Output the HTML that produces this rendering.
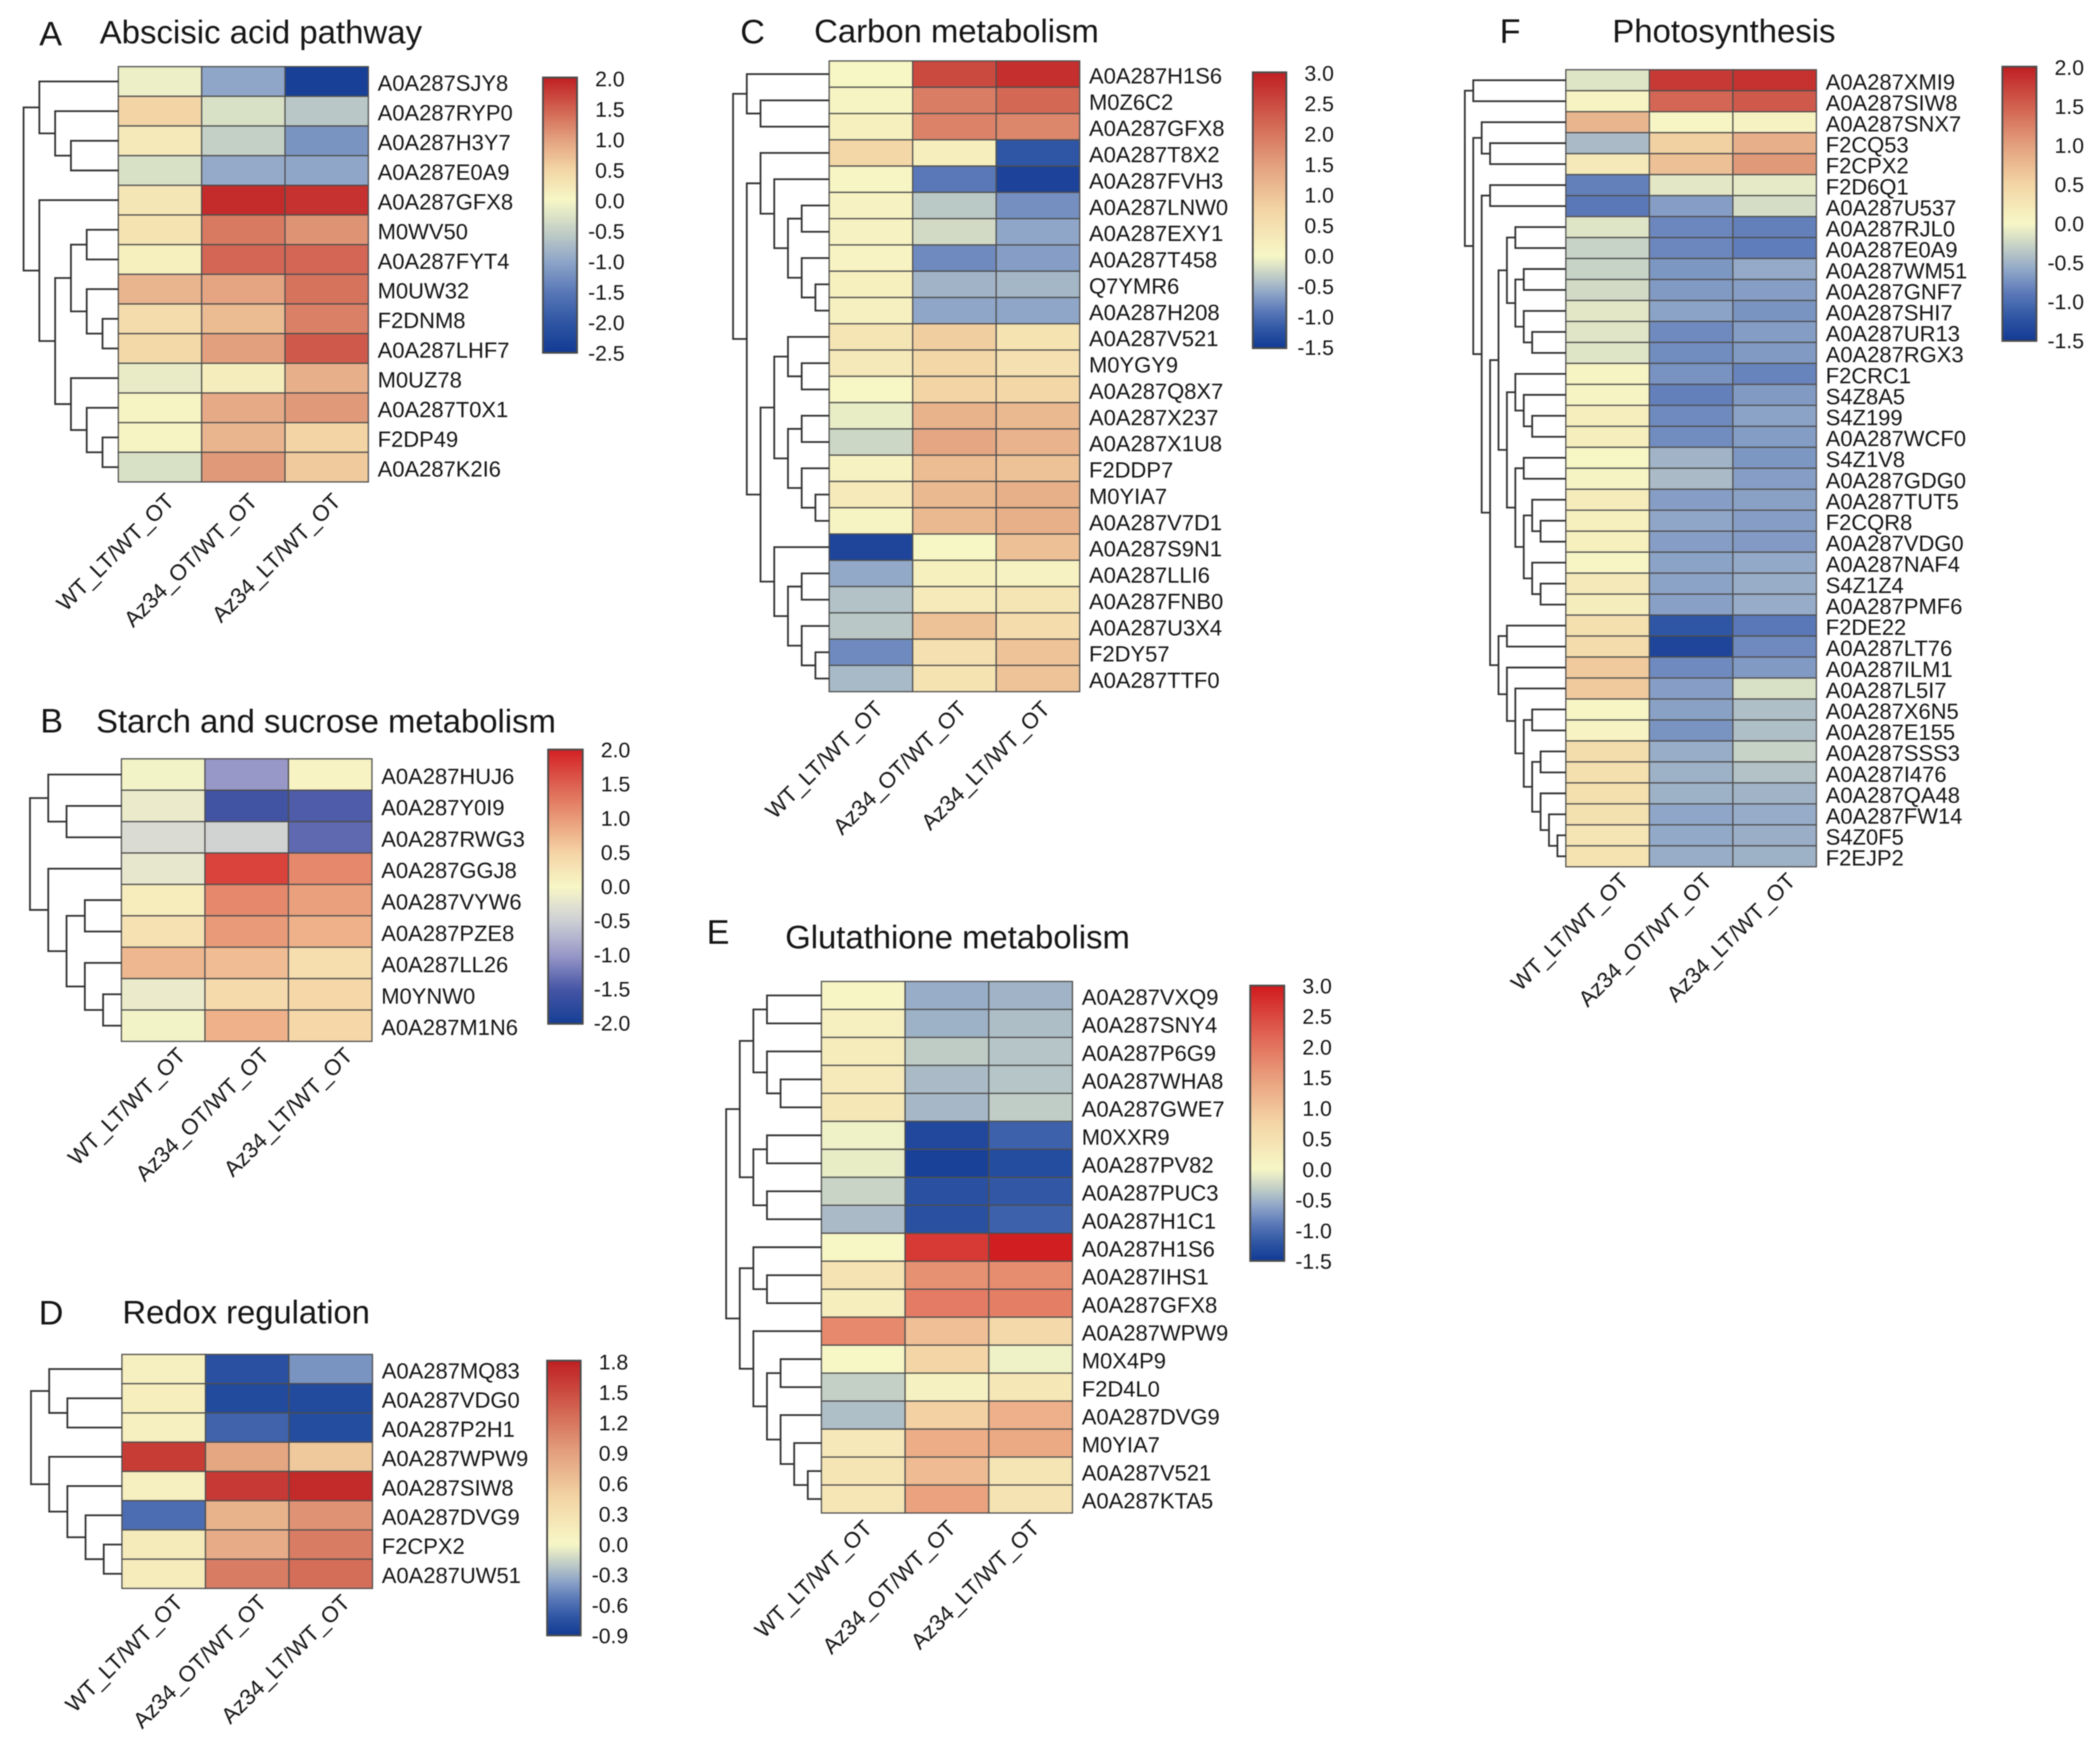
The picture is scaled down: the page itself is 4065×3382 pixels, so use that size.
<!DOCTYPE html>
<html lang="en">
<head>
<meta charset="utf-8">
<title>Heatmaps of differentially expressed proteins by pathway</title>
<style>
html,body{margin:0;padding:0;background:#fff;width:4065px;height:3382px;overflow:hidden}
svg{display:block;filter:blur(1px);font-family:"Liberation Sans",Arial,sans-serif;fill:#141414}
</style>
</head>
<body>
<svg id="figure" xmlns="http://www.w3.org/2000/svg" width="4065" height="3382" viewBox="0 0 4065 3382"></svg>
<script>
const conditions = ["WT_LT/WT_OT", "Az34_OT/WT_OT", "Az34_LT/WT_OT"];

const rowsA = ["A0A287SJY8","A0A287RYP0","A0A287H3Y7","A0A287E0A9","A0A287GFX8","M0WV50","A0A287FYT4","M0UW32","F2DNM8","A0A287LHF7","M0UZ78","A0A287T0X1","F2DP49","A0A287K2I6"];
const valuesA = [[-0.1,-1.0,-2.4],[0.5,-0.3,-0.6],[0.2,-0.5,-1.2],[-0.3,-0.95,-1.0],[0.25,1.9,1.85],[0.3,1.3,1.1],[0.1,1.45,1.45],[0.8,0.95,1.35],[0.4,0.75,1.25],[0.45,1.0,1.55],[-0.15,0.15,0.85],[0.05,0.9,1.05],[0.05,0.8,0.5],[-0.3,1.05,0.6]];
const ticksA = [2.0,1.5,1.0,0.5,0.0,-0.5,-1.0,-1.5,-2.0,-2.5];
const treeA = [[0,[0,[0,0]]],[0,[[[0,0],[0,[0,0]]],[0,[0,[0,0]]]]]];

const rowsB = ["A0A287HUJ6","A0A287Y0I9","A0A287RWG3","A0A287GGJ8","A0A287VYW6","A0A287PZE8","A0A287LL26","M0YNW0","A0A287M1N6"];
const valuesB = [[-0.05,-1.0,0.05],[-0.15,-1.55,-1.45],[-0.35,-0.45,-1.35],[-0.2,1.72,1.15],[0.15,1.15,0.95],[0.3,1.0,0.8],[0.75,0.7,0.35],[-0.15,0.4,0.45],[-0.05,0.8,0.45]];
const ticksB = [2.0,1.5,1.0,0.5,0.0,-0.5,-1.0,-1.5,-2.0];
const treeB = [[0,[0,0]],[0,[[0,0],[0,[0,0]]]]];

const rowsC = ["A0A287H1S6","M0Z6C2","A0A287GFX8","A0A287T8X2","A0A287FVH3","A0A287LNW0","A0A287EXY1","A0A287T458","Q7YMR6","A0A287H208","A0A287V521","M0YGY9","A0A287Q8X7","A0A287X237","A0A287X1U8","F2DDP7","M0YIA7","A0A287V7D1","A0A287S9N1","A0A287LLI6","A0A287FNB0","A0A287U3X4","F2DY57","A0A287TTF0"];
const valuesC = [[0.02,2.5,2.8],[0.07,1.9,2.15],[0.15,1.85,1.8],[0.7,0.2,-1.2],[0.04,-0.9,-1.4],[0.1,-0.35,-0.75],[0.12,-0.22,-0.6],[0.08,-0.78,-0.65],[0.18,-0.5,-0.48],[0.17,-0.6,-0.6],[0.4,0.85,0.45],[0.3,0.7,0.5],[0.02,0.75,0.7],[-0.08,1.25,1.15],[-0.25,1.4,1.22],[0.12,1.1,1.02],[0.28,1.15,1.28],[0.06,1.15,1.28],[-1.38,0.02,1.05],[-0.58,0.18,0.12],[-0.4,0.28,0.42],[-0.36,1.02,0.6],[-0.78,0.5,1.0],[-0.46,0.45,1.0]];
const ticksC = [3.0,2.5,2.0,1.5,1.0,0.5,0.0,-0.5,-1.0,-1.5];
const treeC = [[0,[0,0]],[[0,[0,[[0,0],[0,[0,0]]]]],[[[0,[0,0]],[[0,0],[0,[0,0]]]],[0,[[0,0],[0,[0,0]]]]]]];

const rowsD = ["A0A287MQ83","A0A287VDG0","A0A287P2H1","A0A287WPW9","A0A287SIW8","A0A287DVG9","F2CPX2","A0A287UW51"];
const valuesD = [[0.1,-0.75,-0.43],[0.12,-0.8,-0.8],[0.1,-0.65,-0.78],[1.6,0.85,0.55],[0.1,1.62,1.72],[-0.6,0.75,1.0],[0.17,0.8,1.15],[0.15,1.15,1.25]];
const ticksD = [1.8,1.5,1.2,0.9,0.6,0.3,0.0,-0.3,-0.6,-0.9];
const treeD = [[0,[0,0]],[0,[0,[0,[0,0]]]]];

const rowsE = ["A0A287VXQ9","A0A287SNY4","A0A287P6G9","A0A287WHA8","A0A287GWE7","M0XXR9","A0A287PV82","A0A287PUC3","A0A287H1C1","A0A287H1S6","A0A287IHS1","A0A287GFX8","A0A287WPW9","M0X4P9","F2D4L0","A0A287DVG9","M0YIA7","A0A287V521","A0A287KTA5"];
const valuesE = [[0.05,-0.55,-0.5],[0.17,-0.52,-0.43],[0.25,-0.33,-0.38],[0.28,-0.45,-0.38],[0.35,-0.47,-0.32],[-0.05,-1.35,-1.1],[-0.08,-1.42,-1.3],[-0.27,-1.25,-1.18],[-0.45,-1.25,-1.1],[0.02,2.65,2.95],[0.45,1.65,1.7],[0.2,1.9,1.87],[1.75,1.05,0.65],[0.02,0.75,-0.05],[-0.3,0.13,0.35],[-0.42,0.8,1.25],[0.33,1.3,1.35],[0.4,1.1,0.42],[0.37,1.45,0.45]];
const ticksE = [3.0,2.5,2.0,1.5,1.0,0.5,0.0,-0.5,-1.0,-1.5];
const treeE = [[[[0,0],[0,[0,0]]],[[0,0],[0,0]]],[[0,[0,0]],[0,[[0,0],[0,[0,[0,0]]]]]]];

const rowsF = ["A0A287XMI9","A0A287SIW8","A0A287SNX7","F2CQ53","F2CPX2","F2D6Q1","A0A287U537","A0A287RJL0","A0A287E0A9","A0A287WM51","A0A287GNF7","A0A287SHI7","A0A287UR13","A0A287RGX3","F2CRC1","S4Z8A5","S4Z199","A0A287WCF0","S4Z1V8","A0A287GDG0","A0A287TUT5","F2CQR8","A0A287VDG0","A0A287NAF4","S4Z1Z4","A0A287PMF6","F2DE22","A0A287LT76","A0A287ILM1","A0A287L5I7","A0A287X6N5","A0A287E155","A0A287SSS3","A0A287I476","A0A287QA48","A0A287FW14","S4Z0F5","F2EJP2"];
const valuesF = [[-0.15,1.8,1.85],[0.06,1.45,1.55],[0.8,0.03,0.08],[-0.45,0.55,0.85],[0.2,0.7,1.05],[-0.85,-0.12,-0.1],[-0.9,-0.65,-0.2],[-0.15,-0.8,-0.85],[-0.28,-0.8,-0.87],[-0.28,-0.7,-0.57],[-0.22,-0.68,-0.65],[-0.12,-0.62,-0.72],[-0.14,-0.78,-0.66],[-0.15,-0.77,-0.68],[0.05,-0.73,-0.82],[0.05,-0.85,-0.68],[0.13,-0.78,-0.62],[0.13,-0.77,-0.66],[0.02,-0.5,-0.7],[0.05,-0.45,-0.65],[0.18,-0.65,-0.63],[0.1,-0.6,-0.65],[0.1,-0.65,-0.67],[0.03,-0.62,-0.58],[0.2,-0.62,-0.55],[0.15,-0.64,-0.56],[0.35,-1.2,-0.9],[0.4,-1.38,-0.78],[0.6,-0.78,-0.68],[0.6,-0.65,-0.18],[0.03,-0.63,-0.42],[0.06,-0.72,-0.42],[0.38,-0.55,-0.28],[0.35,-0.52,-0.4],[0.35,-0.52,-0.5],[0.33,-0.6,-0.56],[0.28,-0.58,-0.54],[0.3,-0.55,-0.52]];
const ticksF = [2.0,1.5,1.0,0.5,0.0,-0.5,-1.0,-1.5];
const treeF = [[0,0],[[0,[0,0]],[[0,0],[[[[0,0],[[0,0],[0,[0,0]]]],[[0,[0,[0,0]]],[[0,0],[[0,[0,0]],[0,[0,0]]]]]],[[0,0],[0,[0,[[0,0],[[0,0],[0,[0,[0,0]]]]]]]]]]]];

const neutral = "#f7f7c6";
const paletteDefault = {neg:["#c4d0c6","#8fa6c8","#5a78b8","#2f56a4","#123a94"],pos:["#f3d5a5","#e3a07e","#d1604f","#c01f22"]};
const paletteB = {neg:["#e4e4d0","#cdcfd4","#9898c8","#4655a5","#153f95"],pos:["#f5d3a5","#e99a78","#dd5f50","#d42022"],negAt:[0.12,0.25,0.5,0.75,1]};
const paletteE = {neg:paletteDefault.neg,pos:["#f4d5a6","#e99e7c","#df5f50","#d01a1e"]};

const panels = [
 {id:"a",letter:"A",title:"Abscisic acid pathway",rows:rowsA,values:valuesA,ticks:ticksA,tree:treeA,palette:paletteDefault,
  hx0:229,hx1:713,hy0:129,hy1:933,cx0:1051,cx1:1117,cy0:150,cy1:683,tickTop:152,tickBot:683,rootX:45.6,
  lx:76,ly:88,tx0:193,tx1:817,ty:84,cdx:0,cdy:0},
 {id:"b",letter:"B",title:"Starch and sucrose metabolism",rows:rowsB,values:valuesB,ticks:ticksB,tree:treeB,palette:paletteB,
  hx0:235,hx1:720,hy0:1469,hy1:2016,cx0:1061,cx1:1128,cy0:1451,cy1:1982,tickTop:1451,tickBot:1980,rootX:58,
  lx:78,ly:1418,tx0:186,tx1:1076,ty:1418,cdx:16,cdy:-10},
 {id:"c",letter:"C",title:"Carbon metabolism",rows:rowsC,values:valuesC,ticks:ticksC,tree:treeC,palette:paletteDefault,
  hx0:1605,hx1:2090,hy0:118,hy1:1339,cx0:2425,cx1:2490,cy0:140,cy1:674,tickTop:141,tickBot:672,rootX:1419,
  lx:1433,ly:84,tx0:1576,tx1:2127,ty:82,cdx:-4,cdy:-4},
 {id:"d",letter:"D",title:"Redox regulation",rows:rowsD,values:valuesD,ticks:ticksD,tree:treeD,palette:paletteDefault,
  hx0:236,hx1:721,hy0:2622,hy1:3075,cx0:1059,cx1:1124,cy0:2634,cy1:3166,tickTop:2636,tickBot:3166,rootX:60,
  lx:75,ly:2564,tx0:237,tx1:716,ty:2562,cdx:10,cdy:-10},
 {id:"e",letter:"E",title:"Glutathione metabolism",rows:rowsE,values:valuesE,ticks:ticksE,tree:treeE,palette:paletteE,
  hx0:1590,hx1:2076,hy0:1900,hy1:2929,cx0:2420,cx1:2486,cy0:1908,cy1:2441,tickTop:1908,tickBot:2441,rootX:1405.6,
  lx:1368,ly:1827,tx0:1520,tx1:2187,ty:1836,cdx:-10,cdy:-8},
 {id:"f",letter:"F",title:"Photosynthesis",rows:rowsF,values:valuesF,ticks:ticksF,tree:treeF,palette:paletteDefault,
  hx0:3031,hx1:3516,hy0:135,hy1:1678,cx0:3876,cx1:3942,cy0:129,cy1:660,tickTop:130,tickBot:659,rootX:2835.5,
  lx:2903,ly:83,tx0:3121,tx1:3553,ty:82,cdx:13,cdy:-10}
];

const NS = "http://www.w3.org/2000/svg";
const svg = document.getElementById("figure");

function mk(tag, attrs, parent, text) {
  const el = document.createElementNS(NS, tag);
  for (const k in attrs) el.setAttribute(k, attrs[k]);
  if (text !== undefined) el.textContent = text;
  parent.appendChild(el);
  return el;
}
function hexToRgb(h) {
  return [parseInt(h.slice(1,3),16), parseInt(h.slice(3,5),16), parseInt(h.slice(5,7),16)];
}
function ramp(stops, at, u) {
  let px = 0, pc = neutral;
  for (let i = 0; i < stops.length; i++) {
    const x = at ? at[i] : (i + 1) / stops.length;
    if (u <= x) {
      const f = (u - px) / (x - px);
      const a = hexToRgb(pc), b = hexToRgb(stops[i]);
      return "rgb(" + a.map((c, j) => Math.round(c + (b[j] - c) * f)).join(",") + ")";
    }
    px = x; pc = stops[i];
  }
  return stops[stops.length - 1];
}
function colorScale(v, min, max, pal) {
  if (v >= 0) return ramp(pal.pos, null, Math.min(1, v / max));
  return ramp(pal.neg, pal.negAt || null, Math.min(1, v / min));
}
function maxDepth(node) {
  return Array.isArray(node) ? 1 + Math.max(maxDepth(node[0]), maxDepth(node[1])) : 0;
}

panels.forEach(function (p) {
  const g = mk("g", {}, svg);
  
  

  const letter = mk("text", {x:p.lx, y:p.ly, "font-size":66}, g, p.letter);
  
  

  const title = mk("text", {x:p.tx0, y:p.ty, "font-size":63.5, textLength:p.tx1 - p.tx0, lengthAdjust:"spacingAndGlyphs"}, g, p.title);
  
  

  const min = Math.min.apply(null, p.ticks), max = Math.max.apply(null, p.ticks);
  const n = p.rows.length;
  const colW = (p.hx1 - p.hx0) / conditions.length;
  const rowH = (p.hy1 - p.hy0) / n;
  const rowY = function (i) { return p.hy0 + i * rowH; };
  const colX = function (j) { return p.hx0 + j * colW; };

  p.values.forEach(function (row, i) {
    row.forEach(function (v, j) {
      const cell = mk("rect", {x:colX(j), y:rowY(i), width:colW, height:rowH, fill:colorScale(v, min, max, p.palette), stroke:"#4e4e4e", "stroke-width":2.4}, g);
      
      
    });
    const lab = mk("text", {x:p.hx1 + 18, y:rowY(i) + rowH / 2 + 18, "font-size":42.5}, g, p.rows[i]);
    
    
  });

  conditions.forEach(function (c, j) {
    const ax = colX(j) + colW / 2 + 30 + p.cdx, ay = p.hy1 + 40 + p.cdy;
    const lab = mk("text", {x:ax, y:ay, "font-size":43, "text-anchor":"end", transform:"rotate(-45 " + ax + " " + ay + ")"}, g, c);
    
    
  });

  const levels = maxDepth(p.tree);
  const step = (p.hx0 - p.rootX) / levels;
  let leafIndex = 0;
  function drawNode(node, depth) {
    if (!Array.isArray(node)) {
      const y = rowY(leafIndex) + rowH / 2;
      leafIndex += 1;
      return {x:p.hx0, y:y};
    }
    const a = drawNode(node[0], depth + 1);
    const b = drawNode(node[1], depth + 1);
    const x = p.rootX + depth * step;
    const branch = mk("path", {d:"M" + a.x + " " + a.y + "H" + x + "V" + b.y + "H" + b.x, fill:"none", stroke:"#303030", "stroke-width":3.4}, g);
    
    
    return {x:x, y:(a.y + b.y) / 2};
  }
  drawNode(p.tree, 0);

  const zeroF = max / (max - min);
  const gradId = "grad-" + p.id;
  const defs = mk("defs", {}, g);
  const grad = mk("linearGradient", {id:gradId, x1:0, y1:0, x2:0, y2:1}, defs);
  for (let k = 0; k <= 80; k++) {
    const f = k / 80;
    const v = f < zeroF ? max * (1 - f / zeroF) : min * (f - zeroF) / (1 - zeroF);
    mk("stop", {offset:f, "stop-color":colorScale(v, min, max, p.palette)}, grad);
  }
  const bar = mk("rect", {x:p.cx0, y:p.cy0, width:p.cx1 - p.cx0, height:p.cy1 - p.cy0, fill:"url(#" + gradId + ")", stroke:"#4a4a4a", "stroke-width":3.5}, g);
  
  

  p.ticks.forEach(function (t) {
    const y = p.tickBot - (t - min) / (max - min) * (p.tickBot - p.tickTop);
    const lab = mk("text", {x:p.cx1 + 92, y:y + 15, "font-size":41, "text-anchor":"end"}, g, t.toFixed(1));
    
    
  });
});
</script>
</body>
</html>
